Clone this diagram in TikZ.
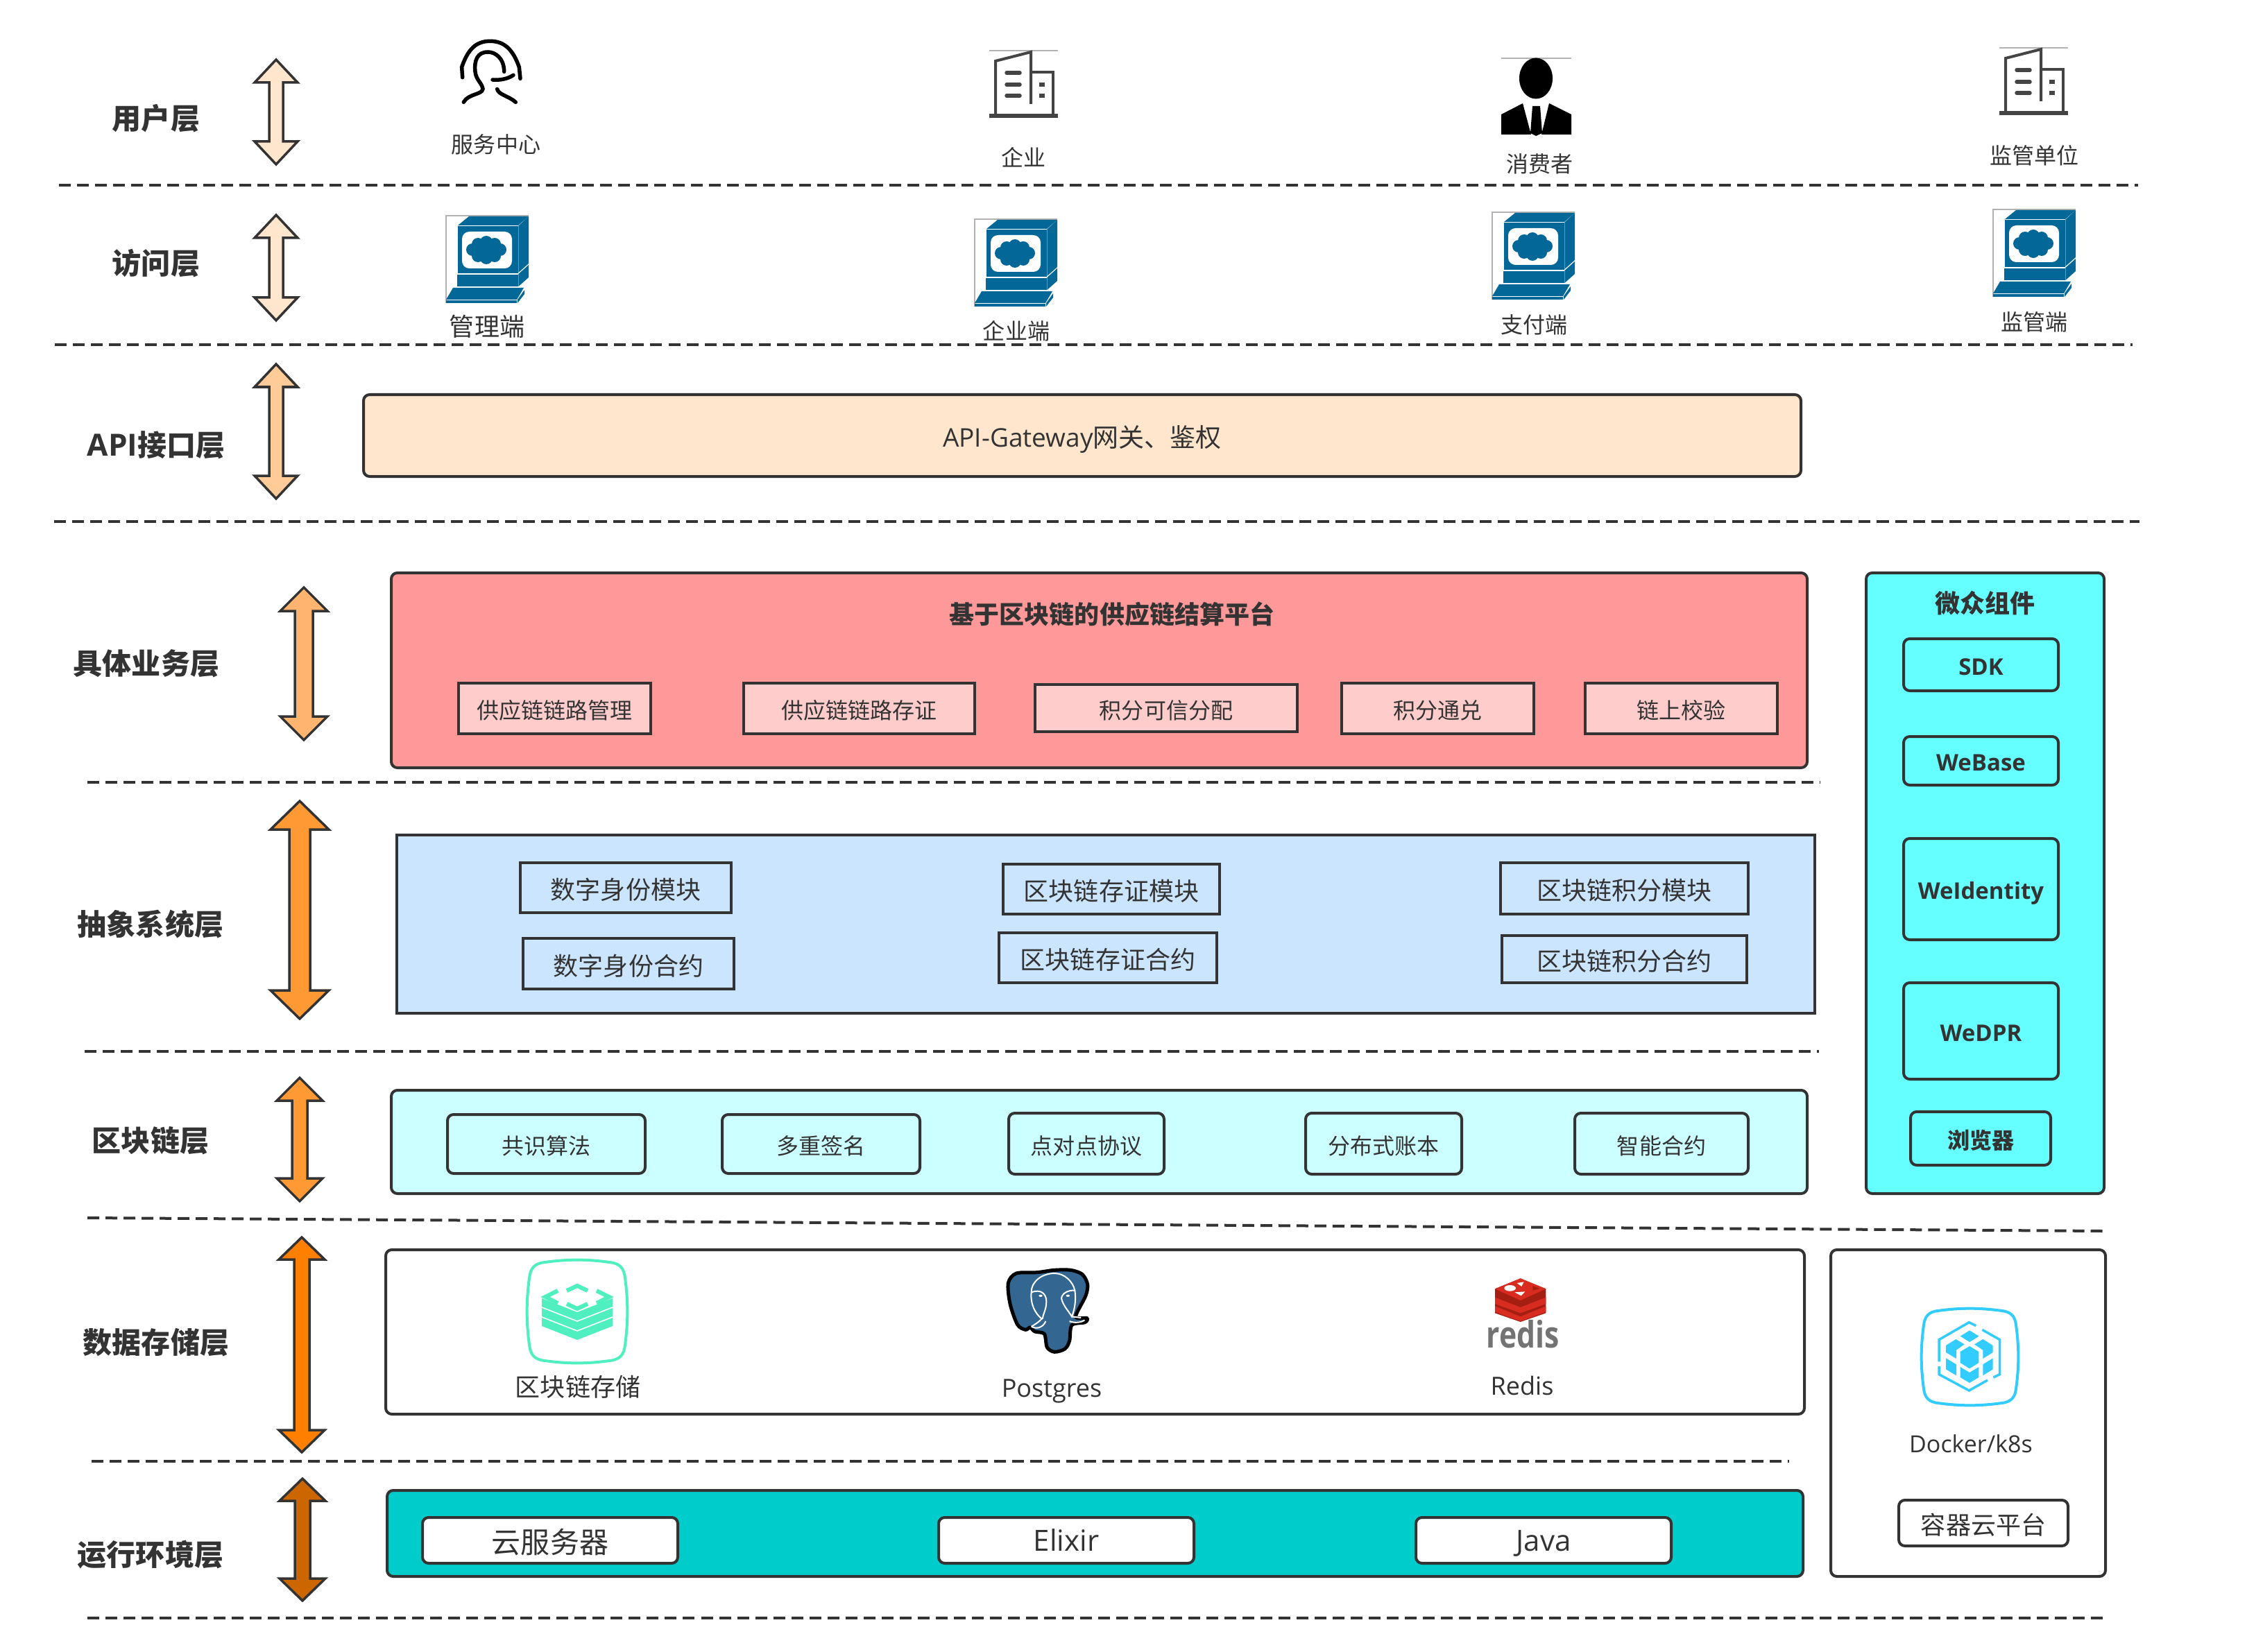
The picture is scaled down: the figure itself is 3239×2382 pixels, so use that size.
\documentclass[tikz,border=0pt]{standalone}
\usepackage{fontspec}
\setmainfont{Open Sans}
\newfontfamily\cjk{Noto Sans CJK SC}

% text sizes are given in pixels of the picture
\newcommand{\txtsize}[1]{\fontsize{\fpeval{#1*0.2845}}{\fpeval{#1*0.34}}\selectfont}
\newcommand{\layerarrow}[7]{%
  \draw[arrowline, fill=#7] (#1,#2) -- ({#1+#4},{#2+#5}) -- ({#1+#6},{#2+#5}) -- ({#1+#6},{#3-#5})
    -- ({#1+#4},{#3-#5}) -- (#1,#3) -- ({#1-#4},{#3-#5}) -- ({#1-#6},{#3-#5}) -- ({#1-#6},{#2+#5})
    -- ({#1-#4},{#2+#5}) -- cycle;}

\tikzset{
  terminalicon/.pic={
    \draw[faintline] (0,126) -- (0,0) -- (119,0);
    \fill[termblue] (33,1) -- (119,1) -- (104,14) -- (17,14) -- cycle;
    \fill[termblue] (17,15) rectangle (103.6,83);
    \fill[white, rounded corners=3pt] (23,23) rectangle (95,76);
    \fill[termblue] (104.4,14.5) -- (119,1) -- (119,69) -- (104.4,82) -- cycle;
    \fill[termblue] (16,85) rectangle (103.6,102);
    \fill[termblue] (104.4,84) -- (119,71) -- (119,89) -- (104.4,102) -- cycle;
    \fill[termblue] (10,104) -- (112,104) -- (102,121) -- (0,121) -- cycle;
    \fill[termblue] (0,122.5) rectangle (102,126);
    \fill[termblue] (103,121) -- (113,107) -- (113,113) -- (103,126) -- cycle;
    \fill[termblue] (58,49.5) ellipse (24 and 13);
    \foreach \bx/\by in {38/49,78/49,46/41,70/41,58/38,46/58,70/58,58/61}
      \fill[termblue] (\bx,\by) circle (9);
  },
  buildingicon/.pic={
    \draw[faintline] (1426,73) -- (1525,73);
    \draw[buildline] (1435,167) -- (1435,88) -- (1486,75) -- (1486,150);
    \draw[buildline] (1486,104) -- (1518,104) -- (1518,167);
    \draw[buildline, line width=0.06cm] (1426,167) -- (1525,167);
    \foreach \wy in {105,122,138}
      \draw[buildline, line cap=round, line width=0.055cm] (1451,\wy) -- (1470,\wy);
    \foreach \wy in {122,138}
      \draw[buildline, line width=0.055cm] (1498,\wy) -- (1506,\wy);
  },
  squircle/.pic={
    \draw[pic actions] (18,2) .. controls (40,-1) and (60,-1) .. (82,2)
      .. controls (93,3) and (97,8) .. (98,18) .. controls (101,40) and (101,60) .. (98,82)
      .. controls (97,92) and (93,97) .. (82,98) .. controls (60,101) and (40,101) .. (18,98)
      .. controls (7,97) and (3,92) .. (2,82) .. controls (-1,60) and (-1,40) .. (2,18)
      .. controls (3,8) and (7,3) .. (18,2) -- cycle;
  }
}

\begin{document}
\begin{tikzpicture}[x=0.01cm, y=-0.01cm,
    sized/.style 2 args={minimum width=#1*0.01cm, minimum height=#2*0.01cm, anchor=north west, inner sep=0pt, outer sep=0pt},
    roundbox/.style={draw=lineDark, line width=0.04cm, text=lineDark, rounded corners=2.5pt},
    squarebox/.style={draw=lineDark, line width=0.04cm, text=lineDark},
    layertitle/.style={text=lineDark, font=\cjk\bfseries\txtsize{42}},
    txtA/.style={text=lineDark, font=\cjk\txtsize{32}},
    txtB/.style={text=lineDark, font=\cjk\txtsize{36}},
    boxA/.style={txtA, text height=0.304cm, text depth=0cm},
    boxB/.style={txtB, text height=0.334cm, text depth=0cm},
    boxC/.style={text=lineDark, font=\cjk\txtsize{42}, text height=0.36cm, text depth=0cm},
    latinB/.style={text=lineDark, font=\txtsize{36}},
    latinC/.style={text=lineDark, font=\txtsize{42}, text height=0.30cm, text depth=0cm},
    boldB/.style={text=lineDark, font=\bfseries\txtsize{33}, text height=0.296cm, text depth=0cm},
    arrowline/.style={draw=lineDark, line width=0.035cm, miter limit=10},
    sepline/.style={draw=lineDark, line width=0.04cm, dash pattern=on 0.17cm off 0.09cm},
    faintline/.style={draw=black!30, line width=0.012cm},
    buildline/.style={draw=buildGray, line width=0.04cm}
  ]
  % Colours of layers and icons
  \definecolor{lineDark}{HTML}{333333}
  \definecolor{buildGray}{HTML}{444444}
  \definecolor{termblue}{HTML}{036897}
  \definecolor{userfill}{HTML}{FFE6CC}
  \definecolor{apiarrow}{HTML}{FFCC99}
  \definecolor{bizarrow}{HTML}{FFB570}
  \definecolor{orangeA}{HTML}{FF9933}
  \definecolor{orangeB}{HTML}{FF8000}
  \definecolor{orangeC}{HTML}{CC6600}
  \definecolor{bizfill}{HTML}{FF9999}
  \definecolor{bizsub}{HTML}{FFCCCC}
  \definecolor{absfill}{HTML}{CCE5FF}
  \definecolor{chainfill}{HTML}{CCFFFF}
  \definecolor{compfill}{HTML}{66FFFF}
  \definecolor{runfill}{HTML}{00CCCC}
  \definecolor{storeGreen}{HTML}{4FEFC0}
  \definecolor{dockerBlue}{HTML}{33CCFF}
  \definecolor{pgBlue}{HTML}{336791}
  \definecolor{redisLight}{HTML}{D82C20}
  \definecolor{redisDark}{HTML}{A41E11}

  \fill[white] (0,0) rectangle (3239,2382);
  \useasboundingbox (0,0) rectangle (3239,2382);

  % Separators between layers
  \draw[sepline] (85,267) -- (3082,267);
  \draw[sepline] (79,497) -- (3074,497);
  \draw[sepline] (78,752) -- (3084,752);
  \draw[sepline] (126,1128) -- (2624,1128);
  \draw[sepline] (122,1516) -- (2622,1516);
  \draw[sepline] (126,1756) -- (3031,1775);
  \draw[sepline] (132,2107) -- (2579,2107);
  \draw[sepline] (126,2333) -- (3031,2333);

  % Layer titles
  \node[layertitle] (userTitle) at (225,171) {用户层};
  \node[layertitle] (accessTitle) at (225,380) {访问层};
  \node[layertitle] (apiTitle) at (225,642) {\normalfont\bfseries\txtsize{44}API\cjk\txtsize{42}接口层};
  \node[layertitle] (bizTitle) at (211,957) {具体业务层};
  \node[layertitle] (absTitle) at (217,1332) {抽象系统层};
  \node[layertitle] (chainTitle) at (217,1645) {区块链层};
  \node[layertitle] (storeTitle) at (225,1936) {数据存储层};
  \node[layertitle] (runTitle) at (217,2242) {运行环境层};

  % Double arrows next to the titles
  \layerarrow{398}{86}{237}{31}{33}{10}{userfill}
  \layerarrow{398}{310}{462}{31}{33}{10}{userfill}
  \layerarrow{398}{525}{719}{31}{33}{10}{apiarrow}
  \layerarrow{438}{847}{1067}{34}{34}{13}{bizarrow}
  \layerarrow{432}{1155}{1469}{42}{41}{15}{orangeA}
  \layerarrow{432}{1554}{1732}{33}{33}{11}{orangeA}
  \layerarrow{435}{1784}{2094}{33}{32}{11}{orangeB}
  \layerarrow{436}{2132}{2308}{33}{32}{11}{orangeC}

  % User layer icons
  \begin{scope}[shift={(600,40)}, scale=0.3333, line width=0.055cm, line cap=round]
    \draw (200,215) -- (197,170) .. controls (225,90) and (260,58) .. (320,58)
      .. controls (385,58) and (420,100) .. (445,170) -- (450,220);
    \draw (380,190) .. controls (380,130) and (340,105) .. (310,105)
      .. controls (265,105) and (250,140) .. (255,190) .. controls (258,225) and (285,240) .. (288,265)
      .. controls (285,290) and (225,285) .. (205,322);
    \draw (350,265) .. controls (355,290) and (400,295) .. (430,322);
    \draw (330,225) .. controls (360,228) and (395,222) .. (420,205);
  \end{scope}
  \pic at (0,0) {buildingicon};
  \pic at (1456,-4) {buildingicon};
  \draw[faintline] (2164,84) -- (2265,84);
  \fill[black] (2214,113) ellipse (24 and 29.5);
  \fill[black] (2164,194) -- (2164,165) -- (2195,149) -- (2207,194) -- cycle;
  \fill[black] (2265,194) -- (2265,165) -- (2233,149) -- (2222,194) -- cycle;
  \fill[black] (2209,153) -- (2220,153) -- (2223,192) -- (2214,196) -- (2206,192) -- cycle;
  \node[txtA] (serviceLbl) at (715,208) {服务中心};
  \node[txtA] (companyLbl) at (1475,227) {企业};
  \node[txtA] (consumerLbl) at (2219,236) {消费者};
  \node[txtA] (regulatorLbl) at (2932,224) {监管单位};

  % Access layer terminals
  \pic at (643,311) {terminalicon};
  \pic at (1405,316) {terminalicon};
  \pic at (2151,306) {terminalicon};
  \pic at (2873,302) {terminalicon};
  \node[txtB] (adminLbl) at (702,471) {管理端};
  \node[txtA] (firmLbl) at (1465,477) {企业端};
  \node[txtA] (payLbl) at (2211,468) {支付端};
  \node[txtA] (auditLbl) at (2932,464) {监管端};

  % API layer
  \node[roundbox, fill=userfill, sized={2072}{118}] (gateway) at (524,569) {};
  \node[text=lineDark, font=\txtsize{37}] (gatewayLbl) at (1560,633) {API-Gateway\cjk 网关、鉴权};

  % Business layer
  \node[roundbox, fill=bizfill, sized={2041}{281}] (bizBox) at (564,826) {};
  \node[text=lineDark, font=\cjk\bfseries\txtsize{36}] (bizLbl) at (1603,886) {基于区块链的供应链结算平台};
  \node[squarebox, fill=bizsub, sized={277}{73}, boxA] (bizOne) at (661,985) {供应链链路管理};
  \node[squarebox, fill=bizsub, sized={333}{73}, boxA] (bizTwo) at (1072,985) {供应链链路存证};
  \node[squarebox, fill=bizsub, sized={378}{68}, boxA] (bizThree) at (1492,987) {积分可信分配};
  \node[squarebox, fill=bizsub, sized={277}{73}, boxA] (bizFour) at (1934,985) {积分通兑};
  \node[squarebox, fill=bizsub, sized={277}{73}, boxA] (bizFive) at (2285,985) {链上校验};

  % Abstract system layer
  \node[squarebox, fill=absfill, sized={2044}{257}] (absBox) at (572,1204) {};
  \node[squarebox, sized={304}{72}, boxB] (idModule) at (750,1244) {数字身份模块};
  \node[squarebox, sized={304}{73}, boxB] (idContract) at (754,1353) {数字身份合约};
  \node[squarebox, sized={312}{72}, boxB] (proofModule) at (1446,1246) {区块链存证模块};
  \node[squarebox, sized={314}{72}, boxB] (proofContract) at (1440,1345) {区块链存证合约};
  \node[squarebox, sized={357}{74}, boxB] (pointModule) at (2163,1244) {区块链积分模块};
  \node[squarebox, sized={353}{68}, boxB] (pointContract) at (2165,1349) {区块链积分合约};

  % Blockchain layer
  \node[roundbox, fill=chainfill, sized={2041}{149}] (chainBox) at (564,1572) {};
  \node[roundbox, sized={285}{85}, boxA] (consensus) at (645,1607) {共识算法};
  \node[roundbox, sized={285}{85}, boxA] (multisig) at (1041,1607) {多重签名};
  \node[roundbox, sized={224}{88}, boxA] (ptop) at (1454,1605) {点对点协议};
  \node[roundbox, sized={225}{88}, boxA] (ledger) at (1882,1605) {分布式账本};
  \node[roundbox, sized={250}{88}, boxA] (contract) at (2270,1605) {智能合约};

  % WeBank components column
  \node[roundbox, fill=compfill, sized={343}{895}] (compBox) at (2690,826) {};
  \node[text=lineDark, font=\cjk\bfseries\txtsize{36}] (compLbl) at (2861,870) {微众组件};
  \node[roundbox, sized={223}{75}, boldB] (sdk) at (2744,921) {SDK};
  \node[roundbox, sized={223}{70}, boldB] (webase) at (2744,1062) {WeBase};
  \node[roundbox, sized={223}{146}, boldB] (weid) at (2744,1209) {WeIdentity};
  \node[roundbox, sized={223}{139}, boldB] (wedpr) at (2744,1417) {WeDPR};
  \node[roundbox, sized={202}{77}, text=lineDark, font=\cjk\bfseries\txtsize{32}, text height=0.304cm, text depth=0cm] (browser) at (2754,1603) {浏览器};

  % Storage layer
  \node[roundbox, sized={2045}{237}] (storeBox) at (556,1802) {};
  \pic[draw=storeGreen, line width=0.04cm, xscale=1.44, yscale=1.48] at (760,1817) {squircle};
  \draw[storeGreen, line width=0.06cm] (817,1861) -- (832,1854) -- (847,1861);
  \draw[storeGreen, line width=0.06cm] (817,1880) -- (832,1887) -- (847,1880);
  \draw[storeGreen, line width=0.06cm] (804,1861) -- (786,1870) -- (804,1879);
  \draw[storeGreen, line width=0.06cm] (860,1861) -- (878,1870) -- (860,1879);
  \foreach \dy in {0,14,28}
    \fill[storeGreen] (781,1872+\dy) -- (832,1892+\dy) -- (883,1872+\dy) -- (883,1884+\dy)
      -- (832,1904+\dy) -- (781,1884+\dy) -- cycle;
  \node[txtB] (chainStoreLbl) at (833,2000) {区块链存储};
  % Postgres elephant
  \begin{scope}[shift={(1420,1810)}, scale=0.3333]
    \filldraw[draw=black, fill=pgBlue, line width=0.05cm] plot[smooth cycle, tension=0.5] coordinates {
      (100,120) (135,78) (225,74) (300,64) (370,64) (420,82) (443,125) (435,175) (392,265)
      (440,272) (432,290) (375,302) (365,370) (345,405) (300,418) (268,398) (256,340) (215,330)
      (195,312) (175,322) (140,300) (108,210)};
    \draw[white, line width=0.02cm] (200,160) .. controls (200,110) and (250,78) .. (300,78)
      .. controls (345,78) and (380,115) .. (388,152);
    \draw[white, line width=0.02cm] (200,160) .. controls (240,145) and (265,165) .. (265,200)
      .. controls (265,235) and (250,255) .. (248,275);
    \draw[white, line width=0.02cm] (200,160) .. controls (195,210) and (215,250) .. (245,275)
      .. controls (230,290) and (215,300) .. (200,308);
    \draw[white, line width=0.02cm] (330,185) .. controls (335,160) and (365,150) .. (388,152)
      .. controls (395,200) and (385,240) .. (375,265) .. controls (360,240) and (335,215) .. (330,185);
    \draw[white, line width=0.02cm] (200,308) .. controls (220,320) and (250,315) .. (262,285);
    \draw[white, line width=0.02cm] (365,285) .. controls (385,295) and (420,290) .. (430,280);
    \draw[white, line width=0.02cm] (375,265) -- (415,270);
    \fill[white] (240,175) ellipse (8 and 5);
    \fill[white] (358,175) ellipse (8 and 5);
  \end{scope}
  \node[latinB] (postgresLbl) at (1516,2006) {Postgres};
  % Redis cube
  \begin{scope}[shift={(2130,1830)}, scale=0.3333]
    \fill[redisDark] (75,85) -- (185,40) -- (295,85) -- (295,190) -- (185,228) -- (75,190) -- cycle;
    \fill[redisLight] (75,122) -- (185,165) -- (295,122) -- (295,150) -- (185,190) -- (75,150) -- cycle;
    \fill[redisLight] (75,160) -- (185,205) -- (295,160) -- (295,185) -- (185,225) -- (75,185) -- cycle;
    \fill[redisLight] (75,85) -- (185,40) -- (295,85) -- (185,135) -- cycle;
    \fill[white] (140,82) ellipse (25 and 13);
    \fill[white] (170,60) -- (200,55) -- (190,75) -- cycle;
    \fill[white] (160,100) -- (205,97) -- (188,115) -- cycle;
    \fill[redisDark] (238,72) -- (268,84) -- (238,92) -- cycle;
  \end{scope}
  \node[text=black!55, font=\bfseries\txtsize{44}, inner sep=0pt, xscale=0.97, yscale=1.2] (redisMark) at (2195,1924) {redis};
  \node[latinB] (redisLbl) at (2194,1998) {Redis};

  % Container platform column
  \node[roundbox, sized={396}{471}] (dockerBox) at (2639,1802) {};
  \pic[draw=dockerBlue, line width=0.04cm, xscale=1.39, yscale=1.39] at (2770,1887) {squircle};
  \begin{scope}[shift={(2770,1885)}, scale=0.3333]
    \draw[dockerBlue, line width=0.035cm] (75,235) -- (75,140) -- (205,65) -- (235,80);
    \draw[dockerBlue, line width=0.035cm] (262,97) -- (338,140) -- (338,290) -- (310,303);
    \draw[dockerBlue, line width=0.035cm] (75,255) -- (75,290) -- (205,360) -- (285,315);
    \fill[dockerBlue] (207,100) -- (248,125) -- (207,150) -- (167,125) -- cycle;
    \fill[dockerBlue] (105,165) -- (148,138) -- (185,160) -- (150,185) -- (150,222) -- (105,195) -- cycle;
    \fill[dockerBlue] (308,165) -- (265,138) -- (228,160) -- (265,185) -- (265,222) -- (308,195) -- cycle;
    \fill[dockerBlue] (207,168) -- (247,192) -- (247,240) -- (207,265) -- (167,240) -- (167,192) -- cycle;
    \fill[dockerBlue] (105,220) -- (150,247) -- (150,295) -- (105,268) -- cycle;
    \fill[dockerBlue] (308,220) -- (265,247) -- (265,295) -- (308,268) -- cycle;
    \fill[dockerBlue] (167,258) -- (207,282) -- (247,258) -- (247,303) -- (207,327) -- (167,303) -- cycle;
  \end{scope}
  \node[text=lineDark, font=\txtsize{34}] (dockerLbl) at (2841,2082) {Docker/k8s};
  \node[roundbox, sized={244}{66}, boxB] (cloudPlatform) at (2737,2163) {容器云平台};

  % Runtime layer
  \node[roundbox, fill=runfill, sized={2041}{124}] (runBox) at (558,2149) {};
  \node[roundbox, fill=white, sized={368}{66}, boxC] (cloudServer) at (609,2188) {云服务器};
  \node[roundbox, fill=white, sized={368}{66}, latinC] (elixir) at (1353,2188) {Elixir};
  \node[roundbox, fill=white, sized={368}{66}, latinC] (java) at (2041,2188) {Java};
\end{tikzpicture}
\end{document}
